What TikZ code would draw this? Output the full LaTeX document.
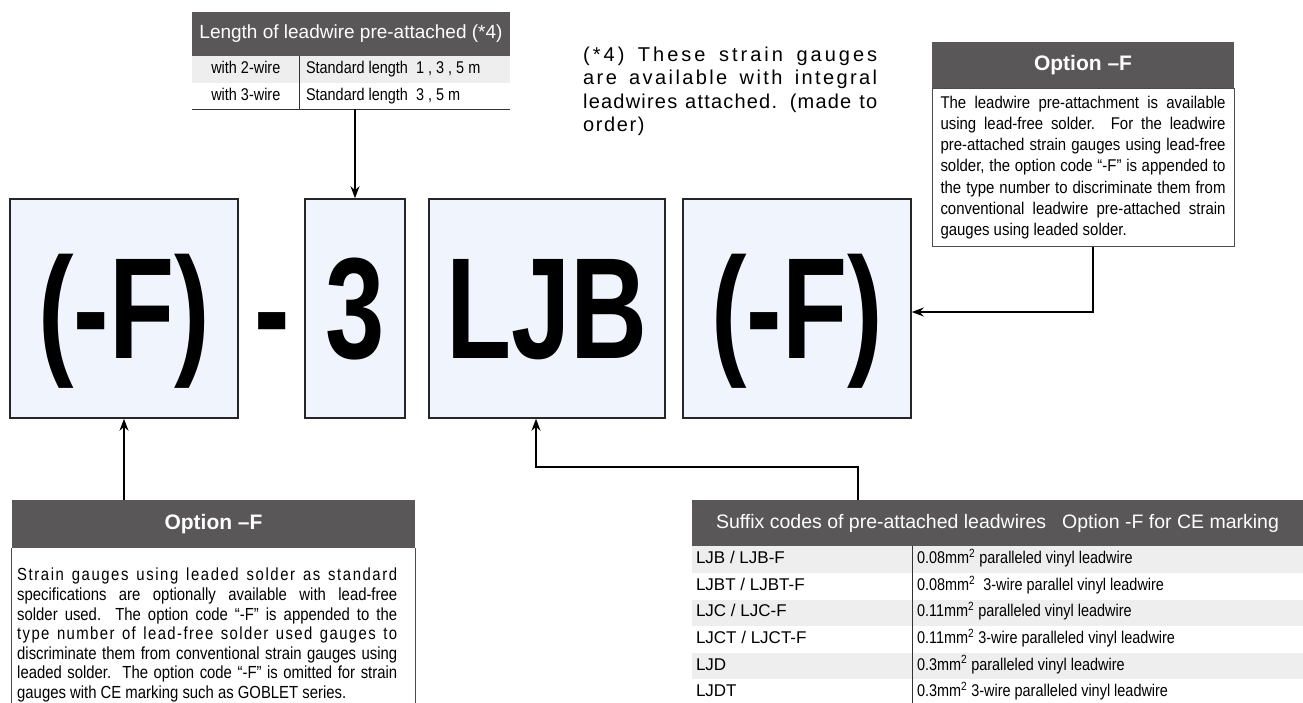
\documentclass[tikz,border=0pt]{standalone}
\usepackage{fontspec}
\setmainfont{Liberation Sans}
\newfontfamily\narrowfont{Liberation Sans}[FakeStretch=0.85]
\newfontfamily\infofont{Liberation Sans}[FakeStretch=0.88]
\newfontfamily\bigfont{Liberation Sans}[FakeStretch=0.74]
\newfontfamily\notefont{Liberation Sans}
\usepackage{tikz}
\usetikzlibrary{positioning, arrows.meta}
\definecolor{hdrgray}{RGB}{89,87,87}
\definecolor{rowgray}{RGB}{238,238,238}
\definecolor{boxblue}{RGB}{240,245,253}
\tikzstyle{codebox} = [rectangle, draw=black!85, line width=1.5pt, fill=boxblue, minimum height=219pt, inner sep=0pt, text height=99pt, text depth=0pt, font=\bigfont\bfseries\fontsize{144}{144}\selectfont]
\tikzstyle{codedash} = [rectangle, inner sep=0pt, text height=99pt, text depth=0pt, font=\bigfont\bfseries\fontsize{144}{144}\selectfont]
\tikzstyle{header} = [rectangle, fill=hdrgray, text=white, inner sep=0pt, minimum height=46pt, font=\fontsize{19}{19}\selectfont]
\tikzstyle{optheader} = [header, font=\bfseries\fontsize{21}{21}\selectfont]
\tikzstyle{infobox} = [rectangle, draw=black!70, line width=0.8pt, fill=white, inner xsep=8.5pt, inner ysep=0pt, align=justify, font=\infofont\fontsize{17}{21.3}\selectfont]
\tikzstyle{rowbox} = [rectangle, inner sep=0pt, minimum height=26.2pt]
\tikzstyle{celltext} = [inner sep=0pt, text height=12pt, text depth=3.5pt, font=\fontsize{17}{17}\selectfont]
\tikzstyle{desctext} = [celltext, font=\narrowfont\fontsize{17}{17}\selectfont]
\tikzstyle{sepline} = [draw=black!80, line width=1pt]
\tikzstyle{boxline} = [draw=black!70, line width=0.8pt]
\tikzstyle{arrow} = [line width=1.6pt, -{Stealth[length=12pt, width=9pt]}]

\begin{document}
\begin{tikzpicture}[x=1pt, y=-1pt]
    \useasboundingbox (0,0) rectangle (1303,702);

    % Type code boxes
    \node (b1) [codebox, minimum width=228pt] at (124,308.5) {(-F)};
    \node (dash) [codedash, right of=b1, node distance=148pt] {-};
    \node (b3) [codebox, minimum width=100pt, right of=b1, node distance=231pt] {3};
    \node (b2) [codebox, minimum width=236pt, right of=b3, node distance=192pt] {LJB};
    \node (b4) [codebox, minimum width=228pt, right of=b2, node distance=250pt] {(-F)};

    % Leadwire length table
    \node (lenhead) [header, minimum width=318pt, minimum height=44pt] at (351,34) {Length of leadwire pre-attached (*4)};
    \node (len1) [rowbox, fill=rowgray, minimum width=318pt, below=0pt of lenhead] {};
    \node (len2) [rowbox, minimum width=318pt, below=0pt of len1] {};
    \node (len1a) [desctext] at ([xshift=54pt]len1.west) {with 2-wire};
    \node (len1b) [desctext, anchor=west] at ([xshift=114pt]len1.west) {Standard length\ \ 1 , 3 , 5 m};
    \node (len2a) [desctext] at ([xshift=54pt]len2.west) {with 3-wire};
    \node (len2b) [desctext, anchor=west] at ([xshift=114pt]len2.west) {Standard length\ \ 3 , 5 m};
    \draw [sepline] ([xshift=108pt]len1.north west) -- ([xshift=108pt]len2.south west);
    \draw [sepline] (len2.south west) -- (len2.south east);

    % Note (*4)
    \node (note) [anchor=north west, inner sep=0pt, text width=294pt, align=justify, font=\notefont\fontsize{20}{23.3}\selectfont] at (583,47)
        {\addfontfeature{LetterSpace=15}(*4) These strain gauges\linebreak
         \addfontfeature{LetterSpace=12}are available with integral\linebreak
         \addfontfeature{LetterSpace=6}leadwires attached. (made to\linebreak
         \addfontfeature{LetterSpace=8}order)};

    % Option -F (leadwire side)
    \node (optRhead) [optheader, minimum width=302pt] at (1083,65) {Option –F};
    \node (optRbody) [infobox, text width=285pt, minimum height=158pt, below=0pt of optRhead]
        {The leadwire pre-attachment is available\linebreak
         using lead-free solder.\ \ For the leadwire\linebreak
         pre-attached strain gauges using lead-free\linebreak
         solder, the option code “-F” is appended to\linebreak
         the type number to discriminate them from\linebreak
         conventional leadwire pre-attached strain\linebreak
         gauges using leaded solder.};

    % Option -F (gauge side)
    \node (optLhead) [optheader, minimum width=403pt, minimum height=48pt] at (213.5,524) {Option –F};
    \node (optLtext) [anchor=north west, inner sep=0pt, text width=380pt, align=justify, font=\narrowfont\fontsize{17.5}{19.6}\selectfont] at (17,568)
        {{\addfontfeature{LetterSpace=9}Strain gauges using leaded solder as standard}\linebreak
         specifications are optionally available with lead-free\linebreak
         solder used.\ \ The option code “-F” is appended to the\linebreak
         {\addfontfeature{LetterSpace=8}type number of lead-free solder used gauges to}\linebreak
         discriminate them from conventional strain gauges using\linebreak
         leaded solder.\ \ The option code “-F” is omitted for strain\linebreak
         gauges with CE marking such as GOBLET series.};
    \draw [boxline] (optLhead.south west) -- ++(0,160);
    \draw [boxline] (optLhead.south east) -- ++(0,160);

    % Suffix code table
    \node (sufhead) [header, minimum width=611pt, font=\fontsize{19.5}{19.5}\selectfont] at (997.5,523) {Suffix codes of pre-attached leadwires\hspace{16pt}Option -F for CE marking};
    \node (suf1) [rowbox, fill=rowgray, minimum width=611pt, below=0pt of sufhead] {};
    \node (suf2) [rowbox, minimum width=611pt, below=0pt of suf1] {};
    \node (suf3) [rowbox, fill=rowgray, minimum width=611pt, below=0pt of suf2] {};
    \node (suf4) [rowbox, minimum width=611pt, below=0pt of suf3] {};
    \node (suf5) [rowbox, fill=rowgray, minimum width=611pt, below=0pt of suf4] {};
    \node (suf6) [rowbox, minimum width=611pt, below=0pt of suf5] {};
    \node (suf1a) [celltext, anchor=west] at ([xshift=4pt]suf1.west) {LJB / LJB-F};
    \node (suf1b) [desctext, anchor=west] at ([xshift=225pt]suf1.west) {0.08mm\textsuperscript{2} paralleled vinyl leadwire};
    \node (suf2a) [celltext, anchor=west] at ([xshift=4pt]suf2.west) {LJBT / LJBT-F};
    \node (suf2b) [desctext, anchor=west] at ([xshift=225pt]suf2.west) {0.08mm\textsuperscript{2}\ \ 3-wire parallel vinyl leadwire};
    \node (suf3a) [celltext, anchor=west] at ([xshift=4pt]suf3.west) {LJC / LJC-F};
    \node (suf3b) [desctext, anchor=west] at ([xshift=225pt]suf3.west) {0.11mm\textsuperscript{2} paralleled vinyl leadwire};
    \node (suf4a) [celltext, anchor=west] at ([xshift=4pt]suf4.west) {LJCT / LJCT-F};
    \node (suf4b) [desctext, anchor=west] at ([xshift=225pt]suf4.west) {0.11mm\textsuperscript{2} 3-wire paralleled vinyl leadwire};
    \node (suf5a) [celltext, anchor=west] at ([xshift=4pt]suf5.west) {LJD};
    \node (suf5b) [desctext, anchor=west] at ([xshift=225pt]suf5.west) {0.3mm\textsuperscript{2} paralleled vinyl leadwire};
    \node (suf6a) [celltext, anchor=west] at ([xshift=4pt]suf6.west) {LJDT};
    \node (suf6b) [desctext, anchor=west] at ([xshift=225pt]suf6.west) {0.3mm\textsuperscript{2} 3-wire paralleled vinyl leadwire};
    \draw [sepline] ([xshift=221pt]suf1.north west) -- ([xshift=221pt]suf6.south west);

    % Connections
    \draw [arrow] (len2.south -| b3.north) -- (b3.north);
    \draw [arrow] ([xshift=10pt]optRbody.south) |- ([yshift=-3.5pt]b4.east);
    \draw [arrow] (optLhead.north -| b1.south) -- (b1.south);
    \coordinate (sufbend) at (858,467);
    \draw [arrow] (sufhead.north -| sufbend) -- (sufbend) -| ([xshift=-11pt]b2.south);
\end{tikzpicture}
\end{document}
